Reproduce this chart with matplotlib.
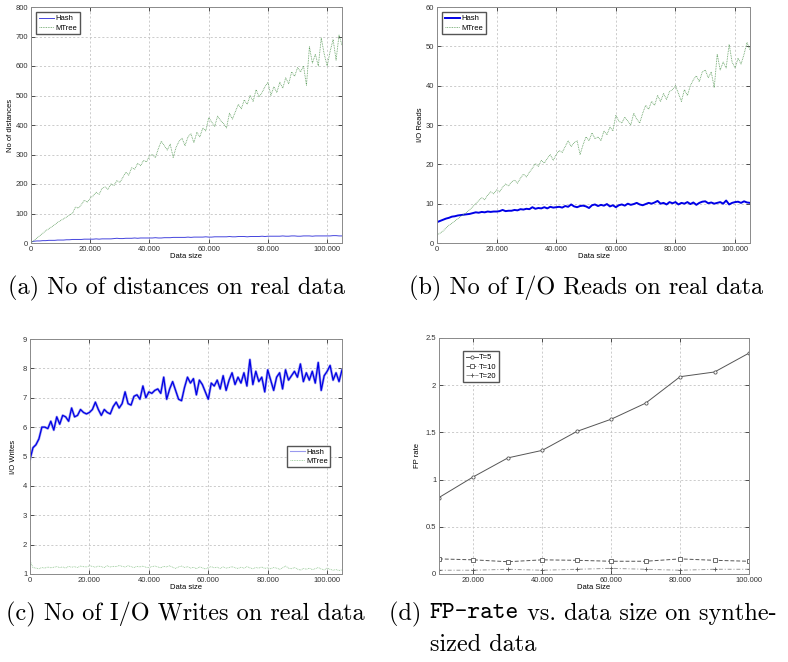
import numpy as np
import matplotlib
matplotlib.use("Agg")
import matplotlib.pyplot as plt
from matplotlib.lines import Line2D

# ---------------- data ----------------
data_size = np.arange(0, 105001, 1000)

dist_mtree = [0, 8, 17, 25, 33, 42, 48, 55, 62, 70, 76,
              82, 88, 95, 100, 122, 118, 130, 145, 138, 152,
              160, 172, 165, 185, 190, 182, 200, 195, 212, 205,
              222, 240, 230, 255, 250, 270, 262, 280, 275, 295,
              300, 290, 320, 345, 330, 315, 335, 290, 325, 345,
              355, 330, 360, 370, 340, 375, 360, 390, 380, 425,
              410, 395, 430, 415, 405, 390, 440, 420, 445, 470,
              455, 485, 470, 500, 480, 520, 495, 510, 530, 545,
              500, 530, 510, 545, 525, 560, 540, 580, 565, 595,
              580, 600, 535, 665, 610, 640, 600, 695, 640, 600,
              650, 690, 620, 705, 670]
dist_hash = [4, 6, 7, 7, 8, 8, 9, 9, 9, 10, 10,
             10, 11, 11, 12, 12, 12, 12, 13, 13, 13,
             13, 14, 13, 14, 14, 14, 14, 15, 16, 15,
             15, 16, 16, 16, 17, 16, 17, 17, 17, 17,
             17, 18, 17, 17, 18, 18, 18, 19, 19, 19,
             19, 19, 20, 19, 20, 20, 20, 20, 21, 20,
             20, 21, 21, 21, 21, 21, 22, 21, 21, 22,
             22, 22, 21, 22, 22, 22, 22, 23, 22, 23,
             23, 23, 23, 23, 24, 23, 23, 24, 24, 23,
             23, 24, 24, 24, 23, 24, 24, 24, 24, 24,
             24, 25, 25, 24, 24]

reads_mtree = [2, 2.5, 3, 3.8, 4.5, 5, 5.6, 6.2, 6.8, 7.3, 7.8,
               8.5, 9.2, 10, 10.8, 11.5, 11, 12.2, 13, 12.5, 13.5,
               13, 14.2, 15, 14.5, 15.5, 16, 15.2, 16.5, 17.5, 16.8,
               18, 19, 20.2, 19.5, 21, 20.3, 21.5, 22.5, 21, 22.5,
               23.5, 23, 24.5, 26, 24.5, 25.5, 26, 22.5, 25, 27,
               26, 28, 26.5, 27, 26, 28.5, 27.5, 29.5, 28.5, 32.5,
               31, 30.5, 32, 31, 30, 33, 31.5, 30.5, 33, 35,
               34, 36, 35, 37.5, 36, 38, 36.5, 38.5, 39, 40,
               38, 36, 39, 37.5, 40, 41.5, 42.5, 41, 43.5, 44,
               42, 43.5, 39.5, 48, 44, 46, 44.5, 50.5, 46, 44.5,
               47, 45.5, 48, 51, 49]
reads_hash = [5.3, 5.6, 5.9, 6.2, 6.4, 6.7, 6.8, 7.0, 7.1, 7.2, 7.3,
              7.4, 7.6, 7.8, 7.7, 7.9, 7.8, 8.0, 7.9, 8.0, 8.0,
              8.1, 8.4, 8.1, 8.2, 8.2, 8.4, 8.3, 8.6, 8.5, 8.7,
              8.6, 9.1, 8.7, 8.9, 8.8, 9.1, 8.8, 9.2, 9.0, 9.1,
              9.2, 9.0, 9.4, 9.2, 9.8, 9.3, 9.1, 9.4, 9.5, 9.3,
              8.9, 9.6, 9.8, 9.4, 9.7, 9.5, 9.9, 9.3, 9.6, 9.1,
              9.6, 9.8, 9.5, 10.0, 9.7, 9.9, 10.2, 9.8, 9.6, 9.9,
              10.2, 10.0, 10.3, 10.7, 10.0, 10.2, 9.8, 10.4, 10.1, 10.4,
              9.8, 10.2, 10.0, 10.4, 9.9, 10.3, 9.7, 10.2, 10.5, 10.6,
              10.1, 10.3, 10.0, 10.2, 10.4, 10.0, 10.8, 9.8, 10.2, 10.4,
              10.5, 10.2, 10.6, 10.3, 10.2]

writes_hash = [4.9, 5.3, 5.4, 5.6, 6.0, 6.0, 5.95, 6.2, 5.9, 6.35, 6.1,
               6.4, 6.35, 6.2, 6.65, 6.35, 6.4, 6.6, 6.5, 6.45, 6.5,
               6.6, 6.85, 6.6, 6.4, 6.6, 6.5, 6.45, 6.7, 6.85, 6.65,
               6.8, 7.2, 6.8, 6.75, 7.05, 7.1, 6.95, 7.4, 7.0, 7.2,
               7.15, 7.25, 7.3, 7.15, 7.7, 6.95, 7.3, 7.55, 7.25, 6.95,
               6.9, 7.35, 7.7, 7.5, 7.65, 7.1, 7.6, 7.45, 7.2, 6.95,
               7.5, 7.4, 7.6, 7.3, 7.75, 7.25, 7.6, 7.85, 7.45, 7.7,
               7.5, 7.85, 7.4, 8.3, 7.45, 7.9, 7.55, 7.7, 7.2, 7.95,
               7.6, 7.25, 7.7, 7.85, 7.3, 7.95, 7.6, 7.75, 7.9, 7.7,
               8.15, 7.55, 7.85, 7.6, 7.9, 7.5, 8.2, 7.25, 7.75, 7.9,
               8.1, 7.6, 7.85, 7.55, 7.95]
writes_mtree = [1.45, 1.22, 1.2, 1.18, 1.22, 1.2, 1.24, 1.21, 1.23, 1.25, 1.22,
                1.24, 1.2, 1.26, 1.23, 1.25, 1.22, 1.27, 1.25, 1.24, 1.28,
                1.26, 1.23, 1.27, 1.25, 1.22, 1.28, 1.24, 1.26, 1.25, 1.29,
                1.26, 1.24, 1.28, 1.25, 1.22, 1.26, 1.24, 1.27, 1.23, 1.22,
                1.25, 1.27, 1.24, 1.21, 1.26, 1.24, 1.28, 1.23, 1.19, 1.24,
                1.27, 1.22, 1.25, 1.2, 1.23, 1.18, 1.24, 1.21, 1.17, 1.22,
                1.25, 1.21, 1.23, 1.19, 1.24, 1.2, 1.22, 1.25, 1.21, 1.19,
                1.23, 1.2, 1.25, 1.21, 1.18, 1.22, 1.2, 1.24, 1.19, 1.21,
                1.18, 1.22, 1.2, 1.16, 1.21, 1.27, 1.2, 1.18, 1.22, 1.17,
                1.13, 1.19, 1.16, 1.2, 1.15, 1.18, 1.22, 1.17, 1.14, 1.2,
                1.16, 1.13, 1.15, 1.12, 1.14]

synth_size = [10000, 20000, 30000, 40000, 50000, 60000, 70000, 80000, 90000, 100000]
fp_t5 = [0.81, 1.03, 1.23, 1.31, 1.51, 1.64, 1.81, 2.09, 2.14, 2.34]
fp_t10 = [0.16, 0.15, 0.13, 0.15, 0.145, 0.135, 0.135, 0.16, 0.145, 0.135]
fp_t20 = [0.04, 0.04, 0.05, 0.04, 0.05, 0.06, 0.05, 0.04, 0.05, 0.05]

real_xticks = [0, 20000, 40000, 60000, 80000, 100000]
real_xticklabels = ["0", "20.000", "40.000", "60.000", "80.000", "100.000"]
synth_xticks = [20000, 40000, 60000, 80000, 100000]
synth_xticklabels = ["20.000", "40.000", "60.000", "80.000", "100.000"]

captions = ["(a) No of distances on real data",
            "(b) No of I/O Reads on real data",
            "(c) No of I/O Writes on real data"]

# ---------------- style ----------------
plt.rcParams['font.family'] = ['Liberation Sans', 'DejaVu Sans']
plt.rcParams['axes.formatter.use_mathtext'] = False
TICK_FS = 5.5
SPINE = '#8a8a8a'
GRID = dict(color='#c4c4c4', linestyle=(0, (2.5, 2.5)), linewidth=0.6)
GREEN = '#5f9e5f'
BLUE = '#0000e6'

fig = plt.figure(figsize=(7.88, 6.62), dpi=100)
W, H = 788, 662

def add_ax(l, t, r, b):
    return fig.add_axes([l / W, 1 - b / H, (r - l) / W, (b - t) / H])

def style(ax):
    for s in ax.spines.values():
        s.set_color(SPINE)
        s.set_linewidth(0.7)
    ax.tick_params(direction='in', length=3, width=0.6, colors='#333333',
                   labelsize=TICK_FS, top=True, right=True, pad=2)
    ax.grid(True, **GRID)
    ax.set_axisbelow(True)

LEG = dict(fontsize=TICK_FS, frameon=True, fancybox=False, edgecolor='#555555',
           handlelength=2.0, borderpad=0.35, labelspacing=0.25, handletextpad=0.15,
           framealpha=1)

ax_a = add_ax(31, 7, 342, 243)
ax_b = add_ax(437, 7, 750, 243)
ax_c = add_ax(30, 339, 342, 574)
ax_d = add_ax(439, 338, 749, 574)

# (a)
ax_a.plot(data_size, dist_hash, color='#4444dd', lw=0.7, label='Hash')
ax_a.plot(data_size, dist_mtree, color=GREEN, lw=0.6, ls=(0, (1, 1)), label='MTree')
ax_a.set_xlim(0, 105000)
ax_a.set_ylim(0, 800)
ax_a.set_ylabel('No of distances', fontsize=TICK_FS, labelpad=1)
ax_a.legend(loc='upper left', borderaxespad=0.7, **LEG)

# (b)
ax_b.plot(data_size, reads_hash, color=BLUE, lw=1.4, label='Hash')
ax_b.plot(data_size, reads_mtree, color=GREEN, lw=0.6, ls=(0, (1, 1)), label='MTree')
ax_b.set_xlim(0, 105000)
ax_b.set_ylim(0, 60)
ax_b.set_ylabel('I/O Reads', fontsize=TICK_FS, labelpad=1.5)
ax_b.legend(loc='upper left', borderaxespad=0.7, **LEG)

# (c)
ax_c.plot(data_size, writes_hash, color='#a0a0f0', lw=1.8)
ax_c.plot(data_size, writes_hash, color=BLUE, lw=0.9)
ax_c.plot(data_size, writes_mtree, color='#8cc48c', lw=0.6, ls=(0, (1, 1)))
ax_c.set_xlim(0, 105000)
ax_c.set_ylim(1, 9)
ax_c.set_ylabel('I/O Writes', fontsize=TICK_FS, labelpad=4)
leg_c = [Line2D([], [], color='#9999ee', lw=0.8),
         Line2D([], [], color='#8cc48c', lw=0.6, ls=(0, (1, 1)))]
ax_c.legend(leg_c, ['Hash', 'MTree'], loc='center right', bbox_to_anchor=(0.975, 0.5), **LEG)

for ax in (ax_a, ax_b, ax_c):
    ax.set_xticks(real_xticks)
    ax.set_xticklabels(real_xticklabels)
    ax.set_xlabel('Data size', fontsize=TICK_FS, labelpad=0.5)
    style(ax)

# (d)
gray = '#555555'
ax_d.plot(synth_size, fp_t5, color=gray, lw=0.7, ls='-', marker='o', ms=2.3,
          mfc='white', mew=0.6, label='T=5')
ax_d.plot(synth_size, fp_t10, color=gray, lw=0.7, ls=(0, (4, 2)), marker='s', ms=2.3,
          mfc='white', mew=0.6, label='T=10')
ax_d.plot(synth_size, fp_t20, color='#999999', lw=0.7, ls=(0, (4, 2, 1, 2)), marker='+', ms=3,
          mew=0.6, mec=gray, label='T=20')
ax_d.set_xlim(10000, 100000)
ax_d.set_ylim(0, 2.5)
ax_d.set_yticks([0, 0.5, 1, 1.5, 2, 2.5])
ax_d.set_yticklabels(['0', '0.5', '1', '1.5', '2', '2.5'])
ax_d.set_xticks(synth_xticks)
ax_d.set_xticklabels(synth_xticklabels)
ax_d.set_xlabel('Data Size', fontsize=TICK_FS, labelpad=0.5)
ax_d.set_ylabel('FP rate', fontsize=TICK_FS, labelpad=3)
leg_d = dict(LEG)
leg_d['handlelength'] = 1.6
ax_d.legend(loc='upper left', bbox_to_anchor=(0.065, 0.96), **leg_d)
style(ax_d)

# ---------------- captions ----------------
CAP_FS = 17.5
cap_kw = dict(fontsize=CAP_FS, family='cmr10', va='center', ha='left')
fig.text(8 / W, 1 - 288 / H, captions[0], **cap_kw)
fig.text(409 / W, 1 - 288 / H, captions[1], **cap_kw)
fig.text(6 / W, 1 - 614 / H, captions[2], **cap_kw)

renderer = fig.canvas.get_renderer()
x = 389 / W
y = 1 - 614 / H
pieces = [("(d) ", 'cmr10'), ("FP-rate", 'cmtt10'), (" vs. data size on synthe-", 'cmr10')]
indent_x = None
for i, (txt, fam) in enumerate(pieces):
    t = fig.text(x, y, txt, fontsize=CAP_FS, family=fam, va='center', ha='left')
    bb = t.get_window_extent(renderer)
    if i == 1:
        indent_x = x
    x = bb.x1 / W
fig.text(indent_x, 1 - 645 / H, "sized data", **cap_kw)

fig.savefig('out.png', dpi=100)
